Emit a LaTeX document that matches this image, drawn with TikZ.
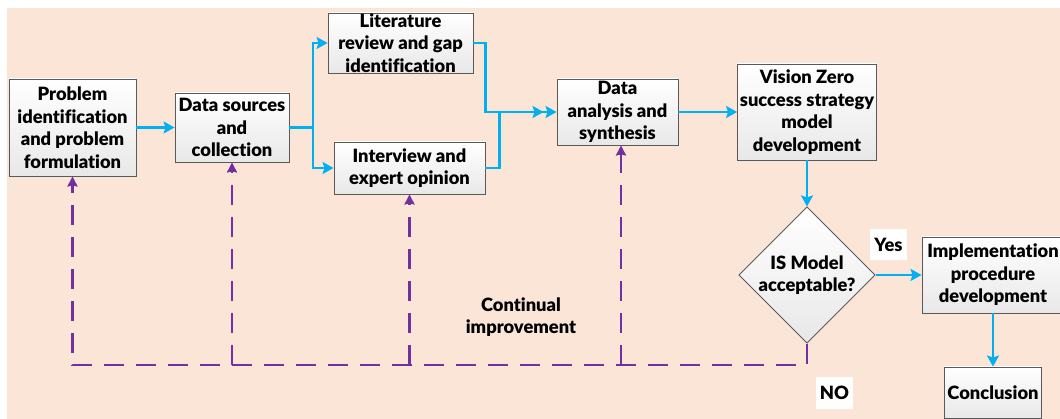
\documentclass[tikz,border=0pt]{standalone}
\usepackage{fontspec}
\setmainfont{Lato}[BoldFont={Lato Black}, Ligatures=NoCommon]
\usetikzlibrary{arrows.meta,shapes.geometric}
\definecolor{peach}{HTML}{FBE5D6}
\definecolor{flowblue}{HTML}{00B0F0}
\definecolor{fbpurple}{HTML}{7030A0}
\definecolor{edgegray}{HTML}{595959}
\begin{document}
\begin{tikzpicture}[x=1pt,y=-1pt,
  txt/.style={font=\bfseries\fontsize{18.3}{22.5}\selectfont, align=center, inner sep=0pt},
  box/.style={txt, draw=edgegray, line width=0.9pt, top color=white, bottom color=black!9},
  dia/.style={txt, diamond, aspect=1, draw=edgegray, line width=0.9pt, top color=white, bottom color=black!9, minimum width=132pt, minimum height=132pt},
  lab/.style={txt, fill=white, minimum width=37pt, minimum height=31pt},
  fl/.style={draw=flowblue, line width=2.6pt, -{Stealth[length=11pt,width=12pt,inset=2pt]}},
  fb/.style={draw=fbpurple, line width=2.6pt, dash pattern=on 20pt off 12pt, -{Stealth[length=10pt,width=10pt,inset=1pt]}}
]
\useasboundingbox (0,0) rectangle (1060,419);
\fill[white] (0,0) rectangle (1060,419);
\fill[peach] (7,8) rectangle (1060,419);

\node[box, minimum width=127pt, minimum height=97pt] (b1) at (72.5,127.5) {Problem\\identification\\and problem\\formulation};
\node[box, minimum width=114pt, minimum height=69pt] (b2) at (232,127.5) {Data sources\\and\\collection};
\node[box, minimum width=145pt, minimum height=60pt] (b3) at (400.5,43) {Literature\\review and gap\\identification};
\node[box, minimum width=151pt, minimum height=52pt] (b4) at (409.5,168) {Interview and\\expert opinion};
\node[box, minimum width=121pt, minimum height=66pt] (b5) at (617.5,112) {Data\\analysis and\\synthesis};
\node[box, minimum width=139pt, minimum height=96pt] (b6) at (807,112) {Vision Zero\\success strategy\\model\\development};
\node[dia] (d) at (807,275) {IS Model\\acceptable?};
\node[box, minimum width=142pt, minimum height=76pt] (b7) at (993,275) {Implementation\\procedure\\development};
\node[box, minimum width=97pt, minimum height=51pt] (b8) at (993,392.5) {Conclusion};

\node[lab] (yes) at (888.5,245) {Yes};
\node[lab] (no) at (834.5,393) {NO};
\node[txt] (ci) at (521,317) {Continual\\improvement};

\coordinate (s1) at (313,127.5);
\coordinate (base) at (0,365);

\draw[fl] (b1.east) -- (b2.west);
\draw[fl] (b2.east) -- (s1) |- (b3.west);
\draw[fl] (s1) |- (b4.west);
\draw[fl] (b3.east) -- ++(12,0) |- (b5.west);
\draw[fl] (b4.east) -- ++(14,0) |- ([xshift=-13pt]b5.west);
\draw[fl] (b5.east) -- (b6.west);
\draw[fl] (b6.south) -- (d.north);
\draw[fl] (d.east) -- (b7.west);
\draw[fl] (b7.south) -- (b8.north);

\draw[fb] (d.south) -- (d.south |- base) -- (b1.south |- base) -- (b1.south);
\draw[fb] (b2.south |- base) -- (b2.south);
\draw[fb] (b4.south |- base) -- (b4.south);
\draw[fb] ([xshift=3.5pt]b5.south |- base) -- ([xshift=3.5pt]b5.south);
\end{tikzpicture}
\end{document}
